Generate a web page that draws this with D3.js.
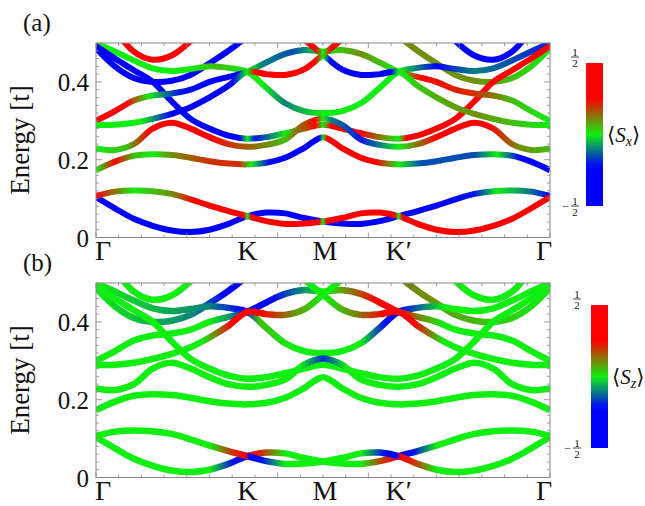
<!DOCTYPE html>
<html>
<head>
<meta charset="utf-8">
<script src="https://cdnjs.cloudflare.com/ajax/libs/d3/7.8.5/d3.min.js"></script>
<style>
body { margin: 0; background: #fff; }
text { font-family: "Liberation Serif", "DejaVu Serif", serif; fill: #111; }
</style>
</head>
<body>
<svg id="fig" width="645" height="506"></svg>
<script>
// path Γ-K-M-K'-Γ, |ΓK| = 2, |KM| = 1
var kGrid = d3.range(0, 6.001, 0.25);
var kLabels = [["Γ", 0], ["K", 2], ["M", 3], ["K′", 4], ["Γ", 6]];
var yLabels = [0, 0.2, 0.4];

// band energies [t] on kGrid (0.7 = above the frame)
var bandA = [0.107,0.118,0.121,0.119,0.112,0.098,0.082,0.068,0.055,0.042,0.035,0.036,0.041,0.050,0.062,0.064,0.055,0.035,0.020,0.014,0.018,0.030,0.048,0.075,0.104];
var bandB = [0.104,0.075,0.048,0.030,0.018,0.014,0.020,0.035,0.055,0.064,0.062,0.050,0.041,0.036,0.035,0.042,0.055,0.068,0.082,0.098,0.112,0.119,0.121,0.118,0.107];
var bandC = [0.173,0.195,0.210,0.214,0.212,0.205,0.196,0.190,0.188,0.192,0.205,0.230,0.258,0.230,0.205,0.192,0.188,0.190,0.196,0.205,0.212,0.214,0.210,0.195,0.173];
var bandD = [0.229,0.225,0.240,0.280,0.295,0.280,0.258,0.240,0.233,0.238,0.252,0.290,0.306,0.290,0.252,0.238,0.233,0.240,0.258,0.280,0.295,0.280,0.240,0.225,0.229];
var bandE = [0.289,0.290,0.295,0.305,0.318,0.335,0.360,0.390,0.426,0.420,0.418,0.432,0.470,0.510,0.560,0.620,0.680,0.700,0.700,0.700,0.700,0.700,0.700,0.700,0.700];
var bandE2 = [0.700,0.700,0.700,0.700,0.700,0.700,0.700,0.700,0.680,0.620,0.560,0.510,0.470,0.432,0.418,0.420,0.426,0.390,0.360,0.335,0.318,0.305,0.295,0.290,0.289];
var bandF = [0.300,0.325,0.352,0.365,0.370,0.380,0.400,0.413,0.426,0.450,0.472,0.482,0.478,0.482,0.472,0.450,0.426,0.413,0.400,0.380,0.370,0.365,0.352,0.325,0.300];
var bandG = [0.492,0.460,0.430,0.400,0.350,0.305,0.280,0.262,0.254,0.258,0.268,0.280,0.290,0.280,0.268,0.258,0.254,0.262,0.280,0.305,0.350,0.400,0.430,0.460,0.492];
var bandH = [0.500,0.478,0.455,0.435,0.428,0.433,0.440,0.436,0.426,0.385,0.345,0.325,0.320,0.325,0.345,0.385,0.426,0.436,0.440,0.433,0.428,0.435,0.455,0.478,0.500];
var bandQ = [0.487,0.440,0.410,0.400,0.403,0.418,0.448,0.480,0.520,0.600,0.700,0.700,0.700,0.700,0.700,0.600,0.520,0.480,0.448,0.418,0.403,0.400,0.410,0.440,0.487];
var bandP = [0.620,0.535,0.478,0.457,0.468,0.505,0.560,0.620,0.680,0.700,0.700,0.700,0.700,0.700,0.700,0.700,0.680,0.620,0.560,0.505,0.468,0.457,0.478,0.535,0.620];

// <Sx> along each band, as [k, value] stops
var sxA = [[0,0.45],[0.3,0.1],[0.5,0],[1,0.1],[1.3,0.25],[1.7,0.5],[1.95,0.5],[2,0],[2.05,0.5],[2.95,0.5],[3,0],[3.05,0.5],[3.95,0.5],[4,0],[4.05,0.5],[6,0.5]];
var sxB = [[0,-0.5],[1.95,-0.5],[2,0],[2.05,-0.5],[2.95,-0.5],[3,0],[3.05,-0.5],[3.95,-0.5],[4,0],[4.05,-0.5],[4.6,-0.45],[5,-0.2],[5.3,0],[5.7,-0.1],[6,-0.4]];
var sxC = [[0,0],[0.25,0.35],[0.5,0.05],[0.75,0],[1,0.1],[1.5,0.2],[1.9,0.2],[2.05,0],[2.3,-0.25],[2.6,-0.45],[2.95,-0.45],[3,0],[3.05,0.45],[3.4,0.45],[3.7,0.25],[4,0],[4.3,-0.15],[5,-0.15],[5.3,0],[5.6,-0.3],[6,-0.35]];
var sxD = [[0,0],[0.4,0.05],[0.7,0.45],[1.1,0.45],[1.5,0.25],[2,0.15],[2.5,0.05],[2.9,0.4],[3,0],[3.1,-0.1],[3.5,-0.2],[4,0],[4.5,0.45],[5.2,0.5],[5.6,0.1],[6,0.05]];
var sxE = [[0,0],[0.6,0],[1,-0.3],[1.8,-0.4],[2,0],[2.1,0.5],[2.9,0.5],[3,0],[3.1,0.5],[6,0.5]];
var sxE2 = [[0,0.5],[2.9,0.5],[3,0],[3.1,-0.5],[3.9,-0.5],[4,0],[4.3,0.05],[5,0.1],[6,0]];
var sxF = [[0,0.4],[0.4,0.3],[0.7,0],[1.1,-0.2],[1.5,-0.45],[1.9,-0.3],[2,0],[2.2,-0.1],[2.6,-0.15],[3,0],[3.5,0.1],[4,0],[4.3,0.3],[5,0.2],[5.5,0.05],[6,0]];
var sxG = [[0,-0.3],[0.3,-0.45],[1.9,-0.5],[2,0],[2.1,-0.2],[2.5,0],[2.9,0.3],[3,0],[3.1,0.3],[3.5,0.45],[4,0],[4.1,0.5],[6,0.5]];
var sxH = [[0,0],[1.2,0],[1.6,0.05],[2,0],[2.2,0],[2.5,-0.1],[3,0],[3.5,0],[4,0],[4.5,-0.3],[5,-0.1],[6,-0.2]];
var sxQ = [[0,-0.45],[1.9,-0.5],[4.1,0.1],[5,0.1],[6,0]];
var sxP = [[0,0.5],[1.3,0.5],[4.7,-0.5],[6,-0.5]];

// <Sz> along each band
var szA = [[0,0],[1.5,0],[1.8,0.2],[1.97,0.5],[2.03,-0.5],[2.2,-0.2],[2.5,0],[3.5,0],[3.8,-0.2],[3.97,-0.5],[4.03,0.5],[4.2,0.2],[4.5,0],[6,0]];
var szB = [[0,0],[1.5,0],[1.8,-0.2],[1.97,-0.5],[2.03,0.5],[2.2,0.2],[2.5,0],[3.5,0],[3.8,0.2],[3.97,0.5],[4.03,-0.5],[4.2,-0.2],[4.5,0],[6,0]];
var szD = [[0,0],[2.7,0],[3,-0.18],[3.3,0],[6,0]];
var szE = [[0,0],[1.4,0],[1.8,0.25],[2,0.5],[2.2,0.25],[2.6,0.1],[3,0],[6,0]];
var szE2 = [[0,0],[3,0],[3.4,0.1],[3.8,0.25],[4,0.5],[4.2,0.25],[4.6,0],[6,0]];
var szF = [[0,0],[1.5,0],[1.8,-0.1],[2,-0.5],[2.3,-0.3],[2.7,-0.1],[3,0],[3.3,0.1],[3.7,0.3],[4,0.5],[4.3,0.1],[4.6,0],[6,0]];
var szH = [[0,0],[1.5,-0.1],[1.95,-0.5],[2.15,0.05],[2.6,0],[3.5,0],[3.8,-0.2],[4,-0.5],[4.2,-0.15],[4.6,0],[6,0]];
var szQ = [[0,0],[1.3,-0.1],[1.7,-0.3],[4.3,0.1],[6,0]];
var szZero = [[0,0],[6,0]];

var bands = [
  {e: bandP, sx: sxP, sz: szZero},
  {e: bandQ, sx: sxQ, sz: szQ},
  {e: bandH, sx: sxH, sz: szH},
  {e: bandG, sx: sxG, sz: szZero},
  {e: bandF, sx: sxF, sz: szF},
  {e: bandE2, sx: sxE2, sz: szE2},
  {e: bandE, sx: sxE, sz: szE},
  {e: bandD, sx: sxD, sz: szD},
  {e: bandC, sx: sxC, sz: szZero},
  {e: bandB, sx: sxB, sz: szB},
  {e: bandA, sx: sxA, sz: szA}
];

var svg = d3.select('#fig');
var defs = svg.append('defs');

var spin = d3.scaleLinear()
  .domain([-0.5, -0.22, 0, 0.25, 0.5])
  .range(["#0000ff", "#0000ff", "#11ee11", "#ff0000", "#ff0000"])
  .clamp(true);

var x = d3.scaleLinear().domain([0, 6]).range([96, 550]);

function draw_panel(top, key, tag, sub, bar) {
  var y = d3.scaleLinear().domain([0, 0.5]).range([top + 194.5, top]);
  var g = svg.append('g');

  defs.append('clipPath').attr('id', 'clip' + key)
    .append('rect').attr('x', x(0)).attr('y', top).attr('width', x(6) - x(0)).attr('height', 194.5);

  var line = d3.line()
    .x(function(d, i) { return x(kGrid[i]); })
    .y(function(d) { return y(d); })
    .curve(d3.curveCatmullRom.alpha(0.5));

  var layer = g.append('g').attr('clip-path', 'url(#clip' + key + ')');
  bands.forEach(function(b, i) {
    var id = 'grad' + key + i;
    var grad = defs.append('linearGradient').attr('id', id)
      .attr('gradientUnits', 'userSpaceOnUse')
      .attr('x1', x(0)).attr('x2', x(6)).attr('y1', 0).attr('y2', 0);
    b[key].forEach(function(s) {
      grad.append('stop').attr('offset', s[0] / 6).attr('stop-color', spin(s[1]));
    });
    layer.append('path').attr('d', line(b.e))
      .attr('fill', 'none').attr('stroke', 'url(#' + id + ')')
      .attr('stroke-width', key == 'sx' ? 6 : 6.5)
      .attr('stroke-linecap', 'butt');
  });

  // frame and ticks
  g.append('rect').attr('x', x(0)).attr('y', top).attr('width', x(6) - x(0)).attr('height', 194.5)
    .attr('fill', 'none').attr('stroke', '#888').attr('stroke-width', 1);
  var ticks = g.append('g').attr('stroke', '#888').attr('stroke-width', 0.8);
  d3.range(0, 0.5001, 0.02).forEach(function(v, i) {
    var len = (i % 10 == 0) ? 6 : 3;
    ticks.append('line').attr('x1', x(0)).attr('x2', x(0) + len).attr('y1', y(v)).attr('y2', y(v));
    ticks.append('line').attr('x1', x(6)).attr('x2', x(6) - len).attr('y1', y(v)).attr('y2', y(v));
  });
  d3.range(0, 6.001, 0.3).forEach(function(v, i) {
    var len = (i % 4 == 0) ? 5 : 3;
    ticks.append('line').attr('x1', x(v)).attr('x2', x(v)).attr('y1', y(0)).attr('y2', y(0) - len);
    ticks.append('line').attr('x1', x(v)).attr('x2', x(v)).attr('y1', top).attr('y2', top + len);
  });

  // labels
  yLabels.forEach(function(v) {
    g.append('text').attr('x', 89).attr('y', y(v) + 9).attr('text-anchor', 'end')
      .attr('font-size', 25).text(v == 0 ? '0' : v.toFixed(1));
  });
  var shift = [7, 0, 2, 0, -6];
  kLabels.forEach(function(l, i) {
    g.append('text').attr('x', x(l[1]) + shift[i]).attr('y', top + 217)
      .attr('text-anchor', 'middle').attr('font-size', 28).text(l[0]);
  });
  g.append('text').attr('transform', 'translate(29,' + (top + 97) + ') rotate(-90)')
    .attr('text-anchor', 'middle').attr('font-size', 27).text('Energy [t]');
  g.append('text').attr('x', 23).attr('y', top - 12).attr('font-size', 25).text(tag);

  // colour bar
  var bid = 'bar' + key;
  var bg = defs.append('linearGradient').attr('id', bid).attr('x1', 0).attr('x2', 0).attr('y1', 1).attr('y2', 0);
  d3.range(-0.5, 0.5001, 0.05).forEach(function(v) {
    bg.append('stop').attr('offset', v + 0.5).attr('stop-color', spin(v));
  });
  g.append('rect').attr('x', bar.x).attr('y', bar.top).attr('width', 17).attr('height', bar.h)
    .attr('fill', 'url(#' + bid + ')');
  function frac(cx, cy, minus) {
    g.append('text').attr('x', cx).attr('y', cy - 1.5).attr('text-anchor', 'middle').attr('font-size', 11).text('1');
    g.append('line').attr('x1', cx - 4).attr('x2', cx + 4).attr('y1', cy).attr('y2', cy).attr('stroke', '#111').attr('stroke-width', 0.8);
    g.append('text').attr('x', cx).attr('y', cy + 9.5).attr('text-anchor', 'middle').attr('font-size', 11).text('2');
    if (minus) g.append('text').attr('x', cx - 6).attr('y', cy + 3.5).attr('text-anchor', 'end').attr('font-size', 12).text('−');
  }
  frac(bar.fx, bar.top - 6, false);
  frac(bar.fx, bar.top + bar.h, true);
  var t = g.append('text').attr('x', bar.x + 21).attr('y', bar.top + bar.h / 2 + 7).attr('font-size', 21);
  t.append('tspan').text('⟨');
  t.append('tspan').attr('font-style', 'italic').text('S');
  t.append('tspan').attr('font-style', 'italic').attr('font-size', 14).attr('dy', 4).text(sub);
  t.append('tspan').attr('dy', -4).text('⟩');
}

draw_panel(43, 'sx', '(a)', 'x', {x: 586, top: 63, h: 143, fx: 575});
draw_panel(283, 'sz', '(b)', 'z', {x: 591, top: 305, h: 143, fx: 577});
</script>
</body>
</html>
